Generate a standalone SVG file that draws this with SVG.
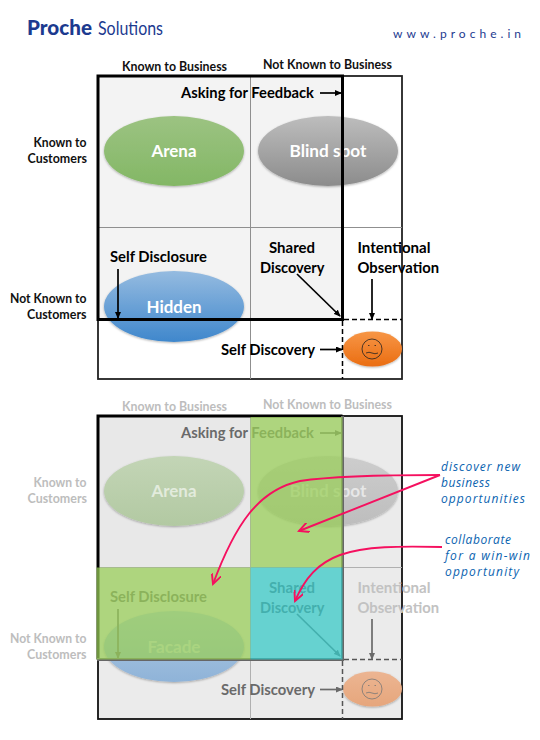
<svg xmlns="http://www.w3.org/2000/svg" width="540" height="740" viewBox="0 0 540 740">
<style>
text{font-family:"Lato","Open Sans","Liberation Sans",sans-serif;font-weight:700}
.h{font-size:12.5px;fill:#111}
.l{font-size:15px;fill:#000}
.o{font-size:17px;fill:#fff;text-anchor:middle}
.hd{font-size:12.5px;fill:#bdbdbd}
.ld{font-size:15px;fill:#6a6a6a}
.ldc{font-size:15px;fill:#c2c2c2}
.od{font-size:17px;fill:#fff;fill-opacity:.6;text-anchor:middle}
.n{font-family:"Open Sans","Noto Sans",sans-serif;font-style:italic;font-weight:400;font-size:12px;fill:#0a63b0}
.e{filter:url(#s)}
.grid{stroke:#8f8f8f;stroke-width:1;fill:none}
.griddim{stroke:#b0b0b0;stroke-width:1;fill:none}
.blk{stroke:#000;fill:none}
.ar{stroke:#000;stroke-width:1.7;fill:none;marker-end:url(#a)}
.ard{stroke:#6a6a6a;stroke-width:1.7;fill:none;marker-end:url(#ad)}
.pk{stroke:#f5105f;stroke-width:1.9;fill:none;marker-end:url(#p)}
.dash{stroke:#000;stroke-width:1.5;stroke-dasharray:5 3;fill:none}
.dashd{stroke:#555;stroke-width:1.5;stroke-dasharray:5 3;fill:none}
</style>
<defs>
<filter id="s" x="-10%" y="-10%" width="120%" height="125%"><feDropShadow dx="0" dy="1" stdDeviation="1" flood-color="#000" flood-opacity=".3"/></filter>
<marker id="a" markerWidth="7" markerHeight="6" refX="6" refY="3" orient="auto" markerUnits="userSpaceOnUse"><path d="M0 0L7 3L0 6Z" fill="#000"/></marker>
<marker id="ad" markerWidth="7" markerHeight="6" refX="6" refY="3" orient="auto" markerUnits="userSpaceOnUse"><path d="M0 0L7 3L0 6Z" fill="#6a6a6a"/></marker>
<marker id="p" markerWidth="12" markerHeight="10" refX="10" refY="5" orient="auto" markerUnits="userSpaceOnUse"><path d="M0 0L10 5L0 10" fill="none" stroke="#f5105f" stroke-width="1.9"/></marker>
<linearGradient id="gG" x1="0" y1="0" x2="0" y2="1"><stop offset="0" stop-color="#9cc382"/><stop offset="1" stop-color="#83b765"/></linearGradient>
<linearGradient id="gS" x1="0" y1="0" x2="0" y2="1"><stop offset="0" stop-color="#bdbdbd"/><stop offset="1" stop-color="#8c8c8c"/></linearGradient>
<linearGradient id="gB" x1="0" y1="0" x2="0" y2="1"><stop offset="0" stop-color="#95bbe0"/><stop offset="1" stop-color="#3f87cc"/></linearGradient>
<linearGradient id="gO" x1="0" y1="0" x2="0" y2="1"><stop offset="0" stop-color="#f79646"/><stop offset="1" stop-color="#ea6d12"/></linearGradient>
<linearGradient id="dG" x1="0" y1="0" x2="0" y2="1"><stop offset="0" stop-color="#c3d5b6"/><stop offset="1" stop-color="#b2c9a2"/></linearGradient>
<linearGradient id="dS" x1="0" y1="0" x2="0" y2="1"><stop offset="0" stop-color="#cdcdcd"/><stop offset="1" stop-color="#bdbdbd"/></linearGradient>
<linearGradient id="dB" x1="0" y1="0" x2="0" y2="1"><stop offset="0" stop-color="#b2cce4"/><stop offset="1" stop-color="#8fb3d8"/></linearGradient>
<linearGradient id="dO" x1="0" y1="0" x2="0" y2="1"><stop offset="0" stop-color="#ecb592"/><stop offset="1" stop-color="#e6a67c"/></linearGradient>
</defs>

<g id="logo">
<text x="27" y="35" font-size="21" style="font-weight:900" fill="#1c3a8f" textLength="65" lengthAdjust="spacingAndGlyphs">Proche</text>
<text x="98" y="35" font-size="19" style="font-weight:400" fill="#1c3a8f" textLength="65" lengthAdjust="spacingAndGlyphs">Solutions</text>
<text x="393" y="38" font-size="12" style="font-weight:400" fill="#1c3a8f" textLength="128" lengthAdjust="spacing">www.proche.in</text>
</g>

<!-- TOP MATRIX -->
<g id="top-matrix">
<rect x="98" y="76" width="244.5" height="243.5" fill="#f3f3f3"/>
<rect x="98" y="76" width="304" height="303" fill="none" stroke="#222" stroke-width="1.8"/>
<path class="grid" d="M250.500 76V379M98 227.500H402"/>
</g>
<g id="arena"><ellipse class="e" cx="174" cy="151" rx="70" ry="35" fill="url(#gG)"/><text class="o" x="174" y="157" textLength="45" lengthAdjust="spacingAndGlyphs">Arena</text></g>
<g id="blind-spot"><ellipse class="e" cx="328" cy="151" rx="70" ry="35" fill="url(#gS)"/><text class="o" x="328" y="157" textLength="77" lengthAdjust="spacingAndGlyphs">Blind spot</text></g>
<g id="hidden"><ellipse class="e" cx="174" cy="306.500" rx="70" ry="35.500" fill="url(#gB)"/><text class="o" x="174" y="313" textLength="55" lengthAdjust="spacingAndGlyphs">Hidden</text></g>
<g id="self"><ellipse class="e" cx="372.500" cy="349" rx="29.500" ry="17.500" fill="url(#gO)"/>
<circle cx="372" cy="349" r="10" fill="none" stroke="#222" stroke-width=".8"/><path d="M368 345.500h1.500M374.500 345.500h1.500M366 353q3 -1.500 6 0t6 0" fill="none" stroke="#222" stroke-width=".8"/></g>
<g id="top-labels">
<text class="h" x="122" y="71" textLength="105" lengthAdjust="spacingAndGlyphs">Known to Business</text>
<text class="h" x="263" y="69" textLength="129" lengthAdjust="spacingAndGlyphs">Not Known to Business</text>
<text class="h" x="33.500" y="147" textLength="53" lengthAdjust="spacingAndGlyphs">Known to</text>
<text class="h" x="27.500" y="163" textLength="59.500" lengthAdjust="spacingAndGlyphs">Customers</text>
<text class="h" x="10" y="303" textLength="76.500" lengthAdjust="spacingAndGlyphs">Not Known to</text>
<text class="h" x="27" y="319" textLength="59.500" lengthAdjust="spacingAndGlyphs">Customers</text>
<text class="l" x="181" y="98" textLength="133" lengthAdjust="spacingAndGlyphs">Asking for Feedback</text>
<text class="l" x="110" y="262" textLength="97" lengthAdjust="spacingAndGlyphs">Self Disclosure</text>
<text class="l" x="269" y="252.500" textLength="46" lengthAdjust="spacingAndGlyphs">Shared</text>
<text class="l" x="260" y="272.500" textLength="64.500" lengthAdjust="spacingAndGlyphs">Discovery</text>
<text class="l" x="357.500" y="252.500" textLength="73" lengthAdjust="spacingAndGlyphs">Intentional</text>
<text class="l" x="357.500" y="272.500" textLength="81.500" lengthAdjust="spacingAndGlyphs">Observation</text>
<text class="l" x="221" y="355" textLength="94" lengthAdjust="spacingAndGlyphs">Self Discovery</text>
</g>
<g id="top-connectors">
<rect class="blk" x="98" y="76" width="244.500" height="243.500" stroke-width="3"/>
<path class="dash" d="M342.500 321V379M344 319.500H402"/>
<path class="ar" d="M320 93H341"/>
<path class="ar" d="M118 269V318"/>
<path class="ar" d="M297 274L340 316"/>
<path class="ar" d="M372 279V319"/>
<path class="ar" d="M320 349.500H342"/>
</g>

<!-- BOTTOM MATRIX -->
<g id="bottom-matrix">
<rect x="98" y="416" width="304" height="303" fill="#ebebeb"/>
<rect x="98" y="416" width="244.500" height="243.500" fill="#e8e8e8"/>
<rect x="98" y="416" width="304" height="303" fill="none" stroke="#111" stroke-width="1.800"/>
<path class="griddim" d="M250.500 416V719M98 567.500H402"/>
</g>
<g id="arena-2"><ellipse class="e" cx="174" cy="491" rx="70" ry="35" fill="url(#dG)"/><text class="od" x="174" y="497" textLength="45" lengthAdjust="spacingAndGlyphs">Arena</text></g>
<g id="blind-spot-2"><ellipse class="e" cx="328" cy="491" rx="70" ry="35" fill="url(#dS)"/><text class="od" x="328" y="497" textLength="77" lengthAdjust="spacingAndGlyphs">Blind spot</text></g>
<g id="facade"><ellipse class="e" cx="174" cy="646.500" rx="70" ry="35.500" fill="url(#dB)"/><text class="od" x="174" y="653" textLength="53" lengthAdjust="spacingAndGlyphs">Facade</text></g>
<g id="self-2"><ellipse class="e" cx="372.500" cy="689" rx="29.500" ry="17.500" fill="url(#dO)"/>
<circle cx="372" cy="689" r="10" fill="none" stroke="#777" stroke-width=".8"/><path d="M368 685.500h1.500M374.500 685.500h1.500M366 693q3 -1.500 6 0t6 0" fill="none" stroke="#777" stroke-width=".8"/></g>
<g id="bottom-labels">
<text class="hd" x="122" y="411" textLength="105" lengthAdjust="spacingAndGlyphs">Known to Business</text>
<text class="hd" x="263" y="409" textLength="129" lengthAdjust="spacingAndGlyphs">Not Known to Business</text>
<text class="hd" x="33.500" y="487" textLength="53" lengthAdjust="spacingAndGlyphs">Known to</text>
<text class="hd" x="27.500" y="503" textLength="59.500" lengthAdjust="spacingAndGlyphs">Customers</text>
<text class="hd" x="10" y="643" textLength="76.500" lengthAdjust="spacingAndGlyphs">Not Known to</text>
<text class="hd" x="27" y="659" textLength="59.500" lengthAdjust="spacingAndGlyphs">Customers</text>
<text class="ld" x="181" y="438" textLength="133" lengthAdjust="spacingAndGlyphs">Asking for Feedback</text>
<text class="ld" x="110" y="602" textLength="97" lengthAdjust="spacingAndGlyphs">Self Disclosure</text>
<text class="ld" x="269" y="592.500" textLength="46" lengthAdjust="spacingAndGlyphs">Shared</text>
<text class="ld" x="260" y="612.500" textLength="64.500" lengthAdjust="spacingAndGlyphs">Discovery</text>
<text class="ldc" x="357.500" y="592.500" textLength="73" lengthAdjust="spacingAndGlyphs">Intentional</text>
<text class="ldc" x="357.500" y="612.500" textLength="81.500" lengthAdjust="spacingAndGlyphs">Observation</text>
<text class="ld" x="221" y="695" textLength="94" lengthAdjust="spacingAndGlyphs">Self Discovery</text>
</g>
<g id="bottom-connectors">
<path class="blk" d="M98 659.500V416H342.500" stroke-width="3"/>
<path d="M342.500 416V659.500H97" fill="none" stroke="#666" stroke-width="3"/>
<path class="dashd" d="M342.500 661V719M344 659.500H402"/>
<path class="ard" d="M320 433H341"/>
<path class="ard" d="M118 609V658"/>
<path class="ard" d="M297 614L340 656"/>
<path class="ard" d="M372 619V659"/>
<path class="ard" d="M320 689.500H342"/>
</g>
<g id="highlights">
<rect x="250.500" y="417" width="92" height="150.500" fill="#98cd56" fill-opacity=".73"/>
<rect x="96.500" y="567.500" width="154" height="92" fill="#98cd56" fill-opacity=".73"/>
<rect x="250.500" y="567.500" width="92" height="92" fill="#35c9c7" fill-opacity=".73"/>
</g>
<g id="callouts">
<path class="pk" d="M440 475C400 475 340 475 300 481C258 490 235 525 213 584"/>
<path class="pk" d="M440 475L299 531"/>
<path class="pk" d="M442 547C400 546 365 546 340 555C318 563 305 578 295 601"/>
</g>
<g id="notes">
<text class="n" x="441" y="471" textLength="79" lengthAdjust="spacing">discover new</text>
<text class="n" x="441" y="487" textLength="49" lengthAdjust="spacing">business</text>
<text class="n" x="441" y="503" textLength="84" lengthAdjust="spacing">opportunities</text>
<text class="n" x="445" y="544" textLength="66" lengthAdjust="spacing">collaborate</text>
<text class="n" x="445" y="560" textLength="85" lengthAdjust="spacing">for a win-win</text>
<text class="n" x="445" y="576" textLength="74" lengthAdjust="spacing">opportunity</text>
</g>
</svg>
